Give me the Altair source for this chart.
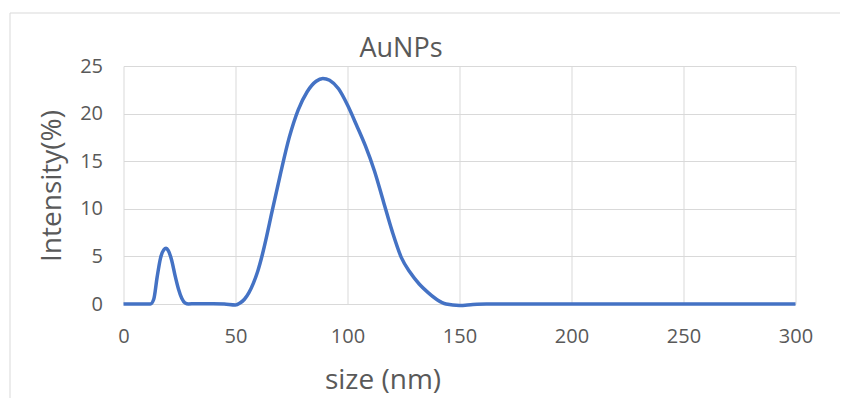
import altair as alt
import pandas as pd

size_nm = [0, 5, 10, 12, 13.5, 15, 16.5, 18, 19, 20, 21.5, 23, 24.5, 26, 27.5, 29,
           32, 40, 45, 50, 52, 54, 56, 58, 60, 62, 64, 66, 70, 74, 78, 82, 86, 89, 92, 96, 100,
           104, 108, 112, 116, 120, 124, 128, 132, 136, 140, 144, 150, 156, 162, 200, 250, 300]
intensity = [0, 0, 0, 0, 0.5, 2.8, 4.8, 5.7, 5.85, 5.6, 4.6, 3.0, 1.6, 0.6, 0.1, 0,
             0.03, 0.03, 0, -0.1, 0.1, 0.5, 1.2, 2.2, 3.5, 5.2, 7.2, 9.4, 13.6, 17.5, 20.4, 22.3, 23.4, 23.7, 23.5, 22.6, 20.9,
             18.8, 16.6, 14.0, 10.8, 7.6, 4.9, 3.3, 2.1, 1.2, 0.45, 0.0, -0.15, -0.05, 0, 0, 0, 0]

x_ticks = [0, 50, 100, 150, 200, 250, 300]
y_ticks = [0, 5, 10, 15, 20, 25]

df = pd.DataFrame({"size": size_nm, "intensity": intensity})
one = pd.DataFrame({"k": [0]})

FONT = "Open Sans"
TXT = "#595959"
GRID = "#d9d9d9"

line = alt.Chart(df).mark_line(color="#4472C4", strokeWidth=3.5, interpolate="monotone").encode(
    x=alt.X("size:Q", scale=alt.Scale(domain=[0, 300], nice=False),
            axis=alt.Axis(values=x_ticks, title="size (nm)", grid=True, gridColor=GRID,
                          domainColor=GRID, ticks=False, labelPadding=22, labelFontSize=20,
                          labelFlush=False,
                          labelColor=TXT, labelFont=FONT, titleFont=FONT, titleFontSize=28,
                          titleColor=TXT, titleFontWeight="normal", titleX=259, titleY=84,
                          titleBaseline="alphabetic", titleAlign="center")),
    y=alt.Y("intensity:Q", scale=alt.Scale(domain=[0, 25], nice=False),
            axis=alt.Axis(values=y_ticks, title="Intensity(%)", grid=True, gridColor=GRID,
                          domain=False, ticks=False, labelPadding=21, labelFontSize=20,
                          labelFlush=False,
                          labelColor=TXT, labelFont=FONT, titleFont=FONT, titleFontSize=28,
                          titleColor=TXT, titleFontWeight="normal", titleX=-63.5, titleY=119.5,
                          titleBaseline="alphabetic", titleAlign="center", titleAngle=-90)),
)

border_top = alt.Chart(one).mark_rule(color=GRID, strokeWidth=1).encode(
    x=alt.value(-113.5), x2=alt.value(716.5), y=alt.value(-53))
border_left = alt.Chart(one).mark_rule(color=GRID, strokeWidth=1).encode(
    x=alt.value(-113.5), y=alt.value(-53), y2=alt.value(332))

chart = alt.layer(border_top, border_left, line).properties(
    width=672, height=238,
    title=alt.TitleParams(text="AuNPs", font=FONT, fontSize=27, color=TXT, fontWeight="normal",
                          anchor="middle", frame="group", dx=-58.5, dy=81.5,
                          baseline="alphabetic", offset=10),
    padding={"left": 115.5, "top": 58, "right": 44.5, "bottom": 96},
    autosize=alt.AutoSizeParams(type="none"),
).configure_view(stroke=None)

chart.save("out.html", embed_options={"renderer": "svg", "actions": False})
